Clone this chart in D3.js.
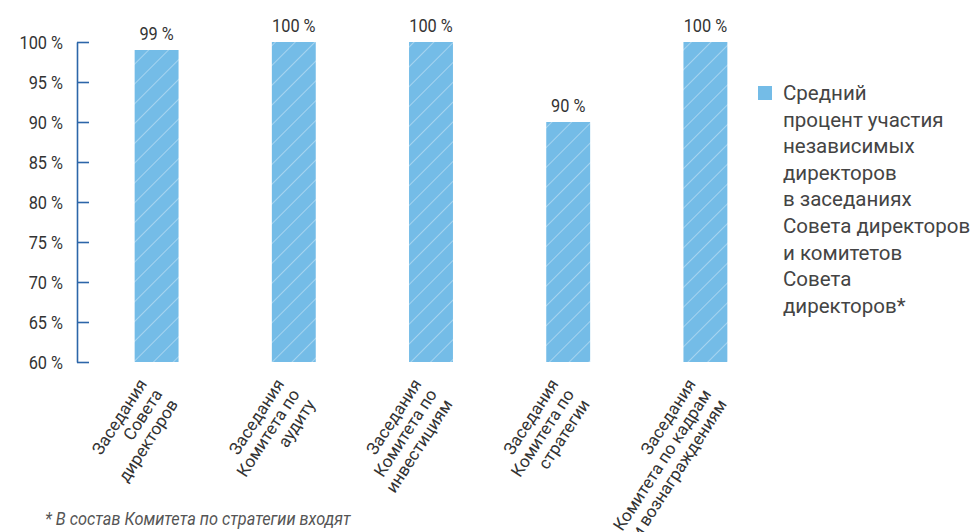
<!DOCTYPE html>
<html>
<head>
<meta charset="utf-8">
<script src="https://cdn.jsdelivr.net/npm/d3@7"></script>
<style>
    body { margin: 0; background: #fff; }
    svg { display: block; font-family: Roboto, "Noto Sans", sans-serif; }
</style>
</head>
<body>
<div id="chart"></div>
<script>
// data
var categories = [
    ["Заседания", "Совета", "директоров"],
    ["Заседания", "Комитета по", "аудиту"],
    ["Заседания", "Комитета по", "инвестициям"],
    ["Заседания", "Комитета по", "стратегии"],
    ["Заседания", "Комитета по кадрам", "и вознаграждениям"]
];
var values = [99, 100, 100, 90, 100];
var yTicks = [60, 65, 70, 75, 80, 85, 90, 95, 100];
var legendLines = ["Средний", "процент участия", "независимых", "директоров",
    "в заседаниях", "Совета директоров", "и комитетов", "Совета", "директоров*"];
var footnote = "* В состав Комитета по стратегии входят";

var width = 976, height = 532;
var barColor = "#74bce7", axisColor = "#2c66a9", textColor = "#333";
var squeeze = 0.86; // narrow glyphs, like a condensed face

var svg = d3.select("#chart").append("svg")
    .attr("width", width)
    .attr("height", height);

// hatch pattern
var pattern = svg.append("defs").append("pattern")
    .attr("id", "hatch")
    .attr("patternUnits", "userSpaceOnUse")
    .attr("width", 14)
    .attr("height", 14)
    .attr("patternTransform", "rotate(45)");
pattern.append("rect")
    .attr("width", 14).attr("height", 14)
    .attr("fill", barColor);
pattern.append("line")
    .attr("x1", 0).attr("y1", 0)
    .attr("x2", 0).attr("y2", 14)
    .attr("stroke", "#fff")
    .attr("stroke-opacity", 0.6)
    .attr("stroke-width", 1.2);

var x = d3.scaleBand()
    .domain(d3.range(values.length))
    .range([88, 774])
    .paddingInner(0.68)
    .paddingOuter(0.34);

var y = d3.scaleLinear()
    .domain([60, 100])
    .range([362, 42]);

// y axis, ticks pointing right
var yAxis = d3.axisLeft(y)
    .tickValues(yTicks)
    .tickSize(-12)
    .tickSizeOuter(0)
    .tickPadding(14)
    .tickFormat(function(d) { return d + " %"; });

var gy = svg.append("g")
    .attr("transform", "translate(77,0)")
    .call(yAxis);
gy.selectAll("path, line")
    .attr("stroke", axisColor)
    .attr("stroke-width", 1.6);
gy.selectAll("text")
    .attr("fill", textColor)
    .attr("x", -14 / squeeze)
    .attr("transform", "scale(" + squeeze + ",1)")
    .style("font-size", "19px")
    .style("font-family", "Roboto");

// bars
svg.selectAll(".bar")
    .data(values)
    .enter().append("rect")
    .attr("class", "bar")
    .attr("x", function(d, i) { return x(i); })
    .attr("y", function(d) { return y(d); })
    .attr("width", x.bandwidth())
    .attr("height", function(d) { return y(60) - y(d); })
    .attr("fill", "url(#hatch)");

// value labels
svg.selectAll(".val")
    .data(values)
    .enter().append("text")
    .attr("class", "val")
    .attr("transform", function(d, i) {
        return "translate(" + (x(i) + x.bandwidth() / 2) + "," + (y(d) - 10) + ") scale(" + squeeze + ",1)";
    })
    .attr("text-anchor", "middle")
    .attr("fill", textColor)
    .style("font-size", "19px")
    .text(function(d) { return d + " %"; });

// category labels, rotated
var cat = svg.selectAll(".cat")
    .data(categories)
    .enter().append("text")
    .attr("class", "cat")
    .attr("transform", function(d, i) {
        var cx = x(i) + x.bandwidth() / 2;
        return "translate(" + (cx - 9) + ",384) rotate(-57)";
    })
    .attr("text-anchor", "end")
    .attr("fill", textColor)
    .style("font-size", "17px");
cat.selectAll("tspan")
    .data(function(d) { return d; })
    .enter().append("tspan")
    .attr("x", 0)
    .attr("y", function(d, i) { return i * 18.5; })
    .text(function(d) { return d; });

// legend
var legend = svg.append("g").attr("transform", "translate(758,86)");
legend.append("rect")
    .attr("width", 14).attr("height", 14)
    .attr("fill", barColor);
legend.selectAll("text")
    .data(legendLines)
    .enter().append("text")
    .attr("x", 25)
    .attr("y", function(d, i) { return 14 + i * 26.6; })
    .attr("fill", "#444")
    .style("font-size", "20.5px")
    .text(function(d) { return d; });

// footnote
svg.append("text")
    .attr("transform", "translate(45,525) scale(" + squeeze + ",1)")
    .attr("fill", "#555")
    .style("font-size", "19px")
    .style("font-style", "italic")
    .text(footnote);
</script>
</body>
</html>
